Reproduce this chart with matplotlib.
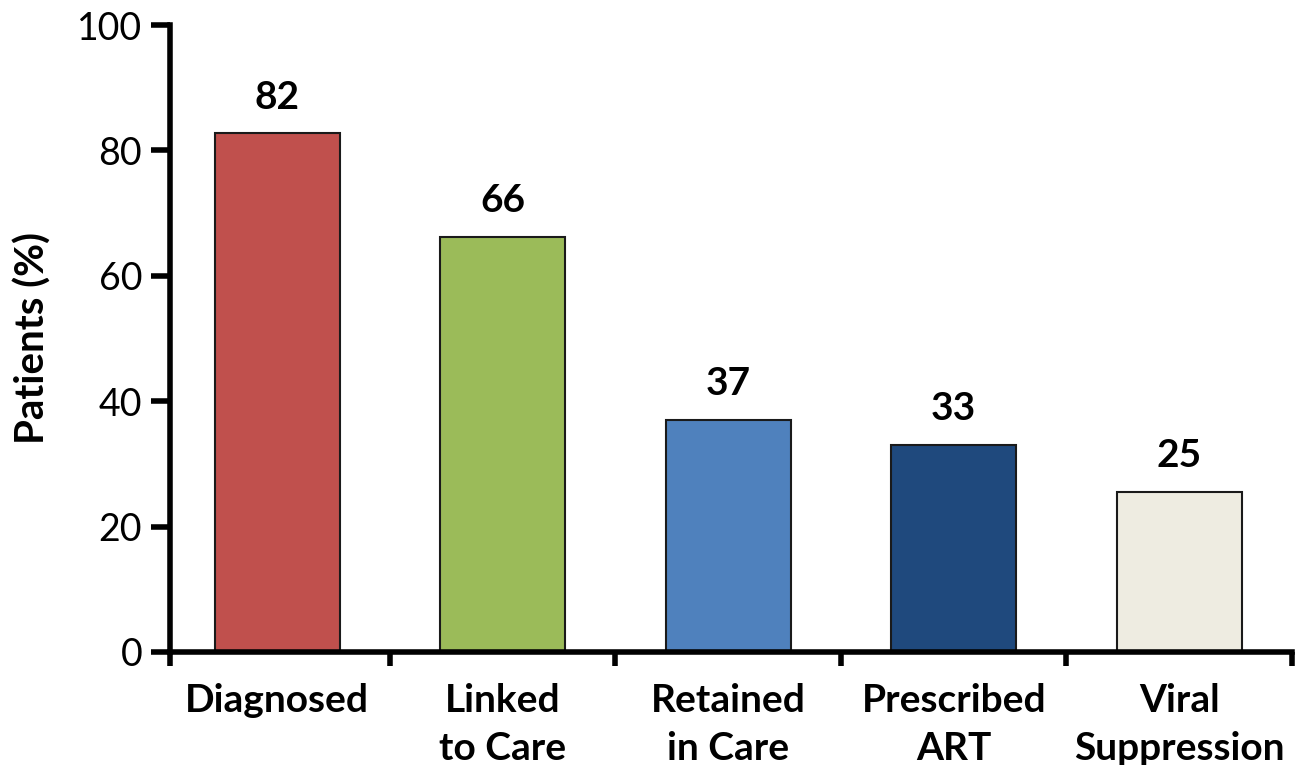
import matplotlib
matplotlib.use("Agg")
import matplotlib.pyplot as plt

categories = ["Diagnosed", "Linked\nto Care", "Retained\nin Care", "Prescribed\nART", "Viral\nSuppression"]
values = [82.7, 66.2, 37.0, 33.0, 25.5]
value_labels = ["82", "66", "37", "33", "25"]
colors = ["#C0504D", "#9BBB59", "#4F81BD", "#1F497D", "#EEECE1"]
yticks = [0, 20, 40, 60, 80, 100]

plt.rcParams['font.family'] = ['Lato', 'DejaVu Sans']

fig = plt.figure(figsize=(12.98, 7.65), dpi=100)
ax = fig.add_axes([170 / 1298, 113 / 765, 1122 / 1298, 627 / 765])

x = list(range(len(categories)))
ax.bar(x, values, width=0.555, color=colors, edgecolor="#1a1a1a", linewidth=1.5, zorder=2)
for xi, v, lab in zip(x, values, value_labels):
    ax.text(xi, v + 3.0, lab, ha="center", va="bottom", fontsize=28, fontweight="bold")

left = -0.475
ax.set_xlim(left, len(categories) - 0.5)
ax.set_ylim(0, 100)
ax.set_yticks(yticks)
ax.set_yticklabels([str(t) for t in yticks], fontsize=27)
ax.set_xticks([left] + [i + 0.5 for i in range(len(categories))])
ax.set_xticklabels([])
ax.set_xticks(x, minor=True)
ax.set_xticklabels(categories, minor=True, fontsize=28, fontweight="bold", linespacing=1.45, va="top")
ax.tick_params(axis="x", which="minor", length=0, pad=22)
ax.tick_params(axis="x", which="major", length=10, width=4, direction="out")
ax.tick_params(axis="y", length=14, width=4, direction="out", pad=6)

for s in ["top", "right"]:
    ax.spines[s].set_visible(False)
for s in ["left", "bottom"]:
    ax.spines[s].set_linewidth(4)

ax.set_ylabel("Patients (%)", fontsize=29, fontweight="bold", labelpad=18)

fig.savefig("out.png", dpi=100)
